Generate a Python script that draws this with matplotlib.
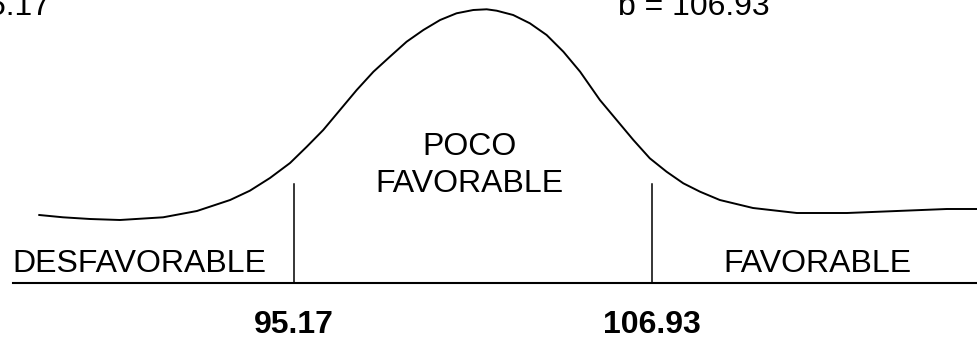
import matplotlib
matplotlib.use('Agg')
import matplotlib.pyplot as plt
import numpy as np

plt.rcParams['font.family'] = ['Liberation Sans', 'DejaVu Sans']

# limits of the "poco favorable" zone
A_LIMIT = 95.17
B_LIMIT = 106.93

# hand drawn bell curve (x in score units, y in arbitrary height)
curve_x = [86.80, 87.58, 88.47, 89.45, 90.87, 91.98, 93.07, 93.72, 94.38, 95.04,
           95.59, 96.13, 96.68, 97.23, 97.78, 98.32, 98.87, 99.42, 99.97, 100.51,
           101.06, 101.50, 101.83, 102.37, 102.92, 103.47, 104.02, 104.57, 105.22,
           105.77, 106.32, 106.86, 107.41, 107.96, 108.51, 109.16, 110.25, 111.69,
           113.34, 114.98, 116.62, 117.61]
curve_y = [68, 65.7, 64, 63, 65.7, 72, 83, 92.3, 105, 120,
           136.3, 153, 173, 193, 211.3, 226.3, 241.3, 253, 263, 269.7,
           273, 273.7, 272.3, 268, 259.7, 248, 231.3, 211.3, 183,
           163, 143, 124.7, 111.3, 99.7, 91.3, 83, 75, 70,
           70, 72, 74, 74]

zone_labels = ['DESFAVORABLE', 'FAVORABLE']
zone_label_x = [90.08, 112.38]
divider_height = 99

FONT_SIZE = 23


def draw_diagram(ax):
    ax.plot(curve_x, curve_y, color='black', lw=1.4, solid_joinstyle='round')
    # base line
    ax.plot([85.94, 117.61], [0, 0], color='black', lw=1.5)
    # dividers at the two limits
    for lim in (A_LIMIT, B_LIMIT):
        ax.plot([lim, lim], [0, divider_height], color='black', lw=1.1)
        ax.text(lim, -50, f'{lim:.2f}', ha='center', va='baseline',
                fontsize=FONT_SIZE, fontweight='bold')
    for label, x in zip(zone_labels, zone_label_x):
        ax.text(x, 11, label, ha='center', va='baseline', fontsize=FONT_SIZE)
    ax.text(100.92, 128, 'POCO', ha='center', va='baseline', fontsize=FONT_SIZE)
    ax.text(100.92, 91, 'FAVORABLE', ha='center', va='baseline', fontsize=FONT_SIZE)
    ax.text(87.15, 268, f'a = {A_LIMIT:.2f}', ha='right', va='baseline', fontsize=FONT_SIZE)
    ax.text(105.81, 268, f'b = {B_LIMIT:.2f}', ha='left', va='baseline', fontsize=FONT_SIZE)


def main():
    fig = plt.figure(figsize=(9.77, 3.40), dpi=100)
    ax = fig.add_axes([0, 0, 1, 1])
    draw_diagram(ax)
    ax.set_xlim(85.51, 117.61)
    ax.set_ylim(-57, 283)
    ax.axis('off')
    fig.savefig('out.png', dpi=100, facecolor='white')


if __name__ == "__main__":
    main()
